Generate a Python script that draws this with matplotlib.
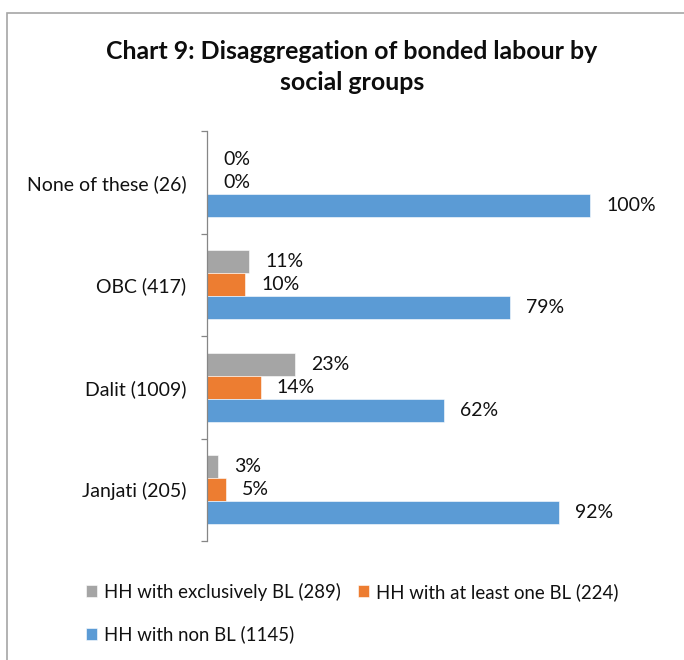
import matplotlib

matplotlib.use("Agg")
import matplotlib.pyplot as plt
from matplotlib.patches import Rectangle
from matplotlib.ticker import FixedLocator

# Social groups, top to bottom, with household counts
groups = ["None of these (26)", "OBC (417)", "Dalit (1009)", "Janjati (205)"]

# Share of households per group (%)
exclusively_bl = [0, 11, 23, 3]
at_least_one_bl = [0, 10, 14, 5]
non_bl = [100, 79, 62, 92]

series_labels = [
    "HH with exclusively BL (289)",
    "HH with at least one BL (224)",
    "HH with non BL (1145)",
]
series_colors = ["#A5A5A5", "#ED7D31", "#5B9BD5"]

plt.rcParams["font.family"] = ["Lato", "DejaVu Sans"]
FONT = 14
LEGEND_FONT = 13.4
TEXT = "#111111"

W, H = 684, 660
fig = plt.figure(figsize=(W / 100, H / 100), dpi=100)
fig.patch.set_facecolor("white")

# Chart frame
fig.patches.append(
    Rectangle((6.5 / W, -0.1), 1.2, 1.1 - 12.5 / H, transform=fig.transFigure,
              fill=False, edgecolor="#A6A6A6", linewidth=1.2)
)

ax = fig.add_axes([207 / W, 1 - 541 / H, 1.2 * 383 / W, (541 - 131) / H])

bar_h = 0.2244
offsets = [-bar_h, 0.0, bar_h]
all_series = [exclusively_bl, at_least_one_bl, non_bl]
y_pos = list(range(len(groups)))

handles = []
for values, off, color, label in zip(all_series, offsets, series_colors, series_labels):
    bars = ax.barh([y + off for y in y_pos], [v / 100 for v in values], height=bar_h,
                   color=color, edgecolor="white", linewidth=0.4, label=label)
    ax.bar_label(bars, labels=[f"{v}%" for v in values], padding=11.5,
                 fontsize=FONT, color=TEXT)
    handles.append(bars)

ax.set_xlim(0, 1.2)
ax.set_ylim(len(groups) - 0.5, -0.5)
ax.set_xticks([])

# Category boundaries get tick marks; names sit between them
ax.yaxis.set_major_locator(FixedLocator([i - 0.5 for i in range(len(groups) + 1)]))
ax.yaxis.set_minor_locator(FixedLocator(y_pos))
ax.set_yticklabels([], minor=False)
ax.set_yticklabels(groups, minor=True, fontsize=FONT, color=TEXT)
ax.tick_params(axis="y", which="major", direction="out", length=4.3, width=0.9, color="#868686")
ax.tick_params(axis="y", which="minor", length=0, pad=15)

for side in ["top", "right", "bottom"]:
    ax.spines[side].set_visible(False)
ax.spines["left"].set_color("#868686")
ax.spines["left"].set_linewidth(0.9)

fig.text(352 / W, 1 - 67 / H, "Chart 9: Disaggregation of bonded labour by\nsocial groups",
         ha="center", va="center", fontsize=17.9, fontweight="bold", linespacing=1.4,
         color="#0d0d0d")

# Legend laid out row-wise: exclusively, at least one / non BL
order = [0, 2, 1]
fig.legend([handles[i] for i in order], [series_labels[i] for i in order],
           loc="upper left", bbox_to_anchor=(77 / W, 1 - 573.5 / H), ncol=2,
           frameon=False, fontsize=LEGEND_FONT, handlelength=0.6, handleheight=0.6,
           handletextpad=0.36, columnspacing=0.9, labelspacing=1.33, borderpad=0,
           labelcolor=TEXT)

fig.savefig("out.png", dpi=100)
